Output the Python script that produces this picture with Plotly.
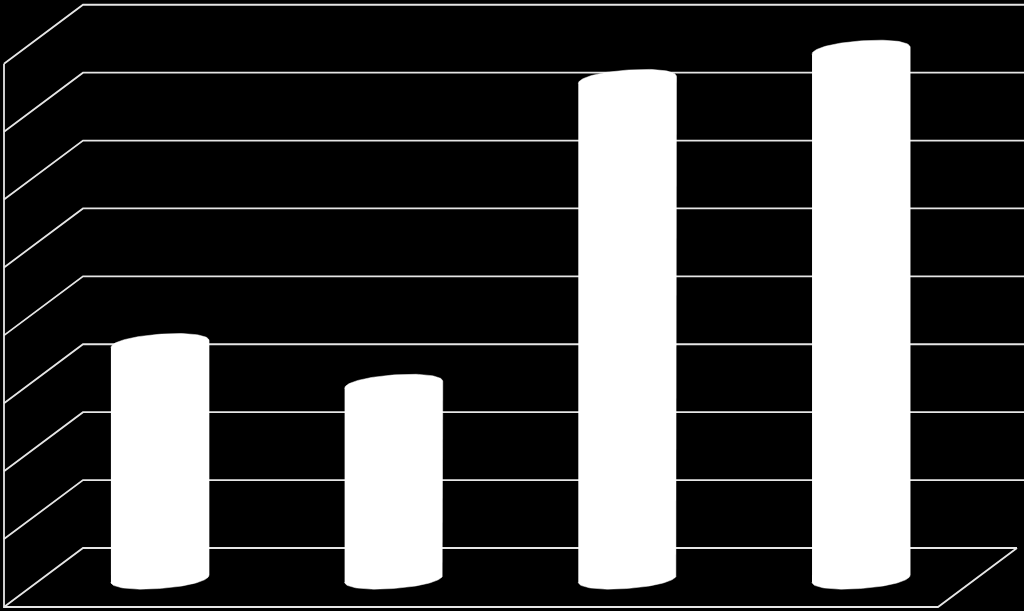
# 3D-look cylinder columns on black, no labels in the original
import numpy as np
import plotly.graph_objects as go

categories = [0, 1, 2, 3]
bar_values = [3.45, 2.85, 7.34, 7.77]
grid_levels = [0, 1, 2, 3, 4, 5, 6, 7, 8]

# axis scale: one category = 233.7 px, one grid step = 67.9 px
x_range = [-0.6846, 3.697]
y_range = [-0.928, 8.07]

wall_left = -0.3295
wall_right = 3.697
floor_right = 3.667
depth_x = 0.338
depth_y = 0.869
bar_base = -0.449
half_width = 0.21
cap_height = 0.147
cap_tilt = 0.052

fig = go.Figure()

# back wall grid and left wall diagonals
for level in grid_levels:
    right = floor_right if level == 0 else wall_right
    fig.add_trace(go.Scatter(
        x=[wall_left - depth_x, wall_left, right],
        y=[level - depth_y, level, level],
        mode='lines',
        line=dict(color='#e6e6e6', width=1.8),
        hoverinfo='skip'
    ))

# left edge and floor front edge
fig.add_trace(go.Scatter(
    x=[wall_left - depth_x, wall_left - depth_x, floor_right - depth_x, floor_right],
    y=[grid_levels[-1] - depth_y, -depth_y, -depth_y, 0],
    mode='lines',
    line=dict(color='#e6e6e6', width=1.8),
    hoverinfo='skip'
))

# cylinders, outline = top cap arc then bottom cap arc
power = 0.95
t_top = np.linspace(np.pi, 0, 60)
t_bot = np.linspace(0, -np.pi, 60)


def cap(t, cx, cy):
    c = np.sign(np.cos(t)) * np.abs(np.cos(t)) ** power
    s = np.sign(np.sin(t)) * np.abs(np.sin(t)) ** power
    return cx + half_width * c, cy + cap_height * s + cap_tilt * c


for cat, val in zip(categories, bar_values):
    xt, yt = cap(t_top, cat, bar_base + val)
    xb, yb = cap(t_bot, cat, bar_base)
    fig.add_trace(go.Scatter(
        x=np.concatenate([xt, xb]),
        y=np.concatenate([yt, yb]),
        mode='lines',
        fill='toself',
        fillcolor='#ffffff',
        line=dict(color='#ffffff', width=0.5),
        hoverinfo='skip'
    ))

fig.update_layout(
    width=1024,
    height=611,
    margin=dict(l=0, r=0, t=0, b=0),
    paper_bgcolor='#000000',
    plot_bgcolor='#000000',
    showlegend=False,
    xaxis=dict(range=x_range, visible=False, fixedrange=True),
    yaxis=dict(range=y_range, visible=False, fixedrange=True)
)

# the page default body margin would shift the chart by 8px
fig.write_html("out.html", config=dict(displayModeBar=False),
               post_script="document.body.style.margin='0';document.body.style.overflow='hidden';")
